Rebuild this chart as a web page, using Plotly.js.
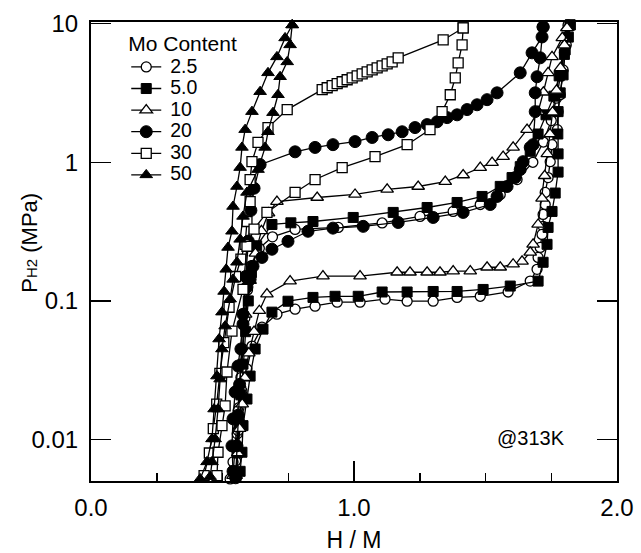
<!DOCTYPE html>
<html>
<head>
<meta charset="utf-8">
<script src="https://cdn.plot.ly/plotly-3.0.1.min.js"></script>
<style>html,body{margin:0;padding:0;background:#fff;}#chart{width:641px;height:553px;}</style>
</head>
<body>
<div id="chart"></div>
<script>
// Mo content labels
const moLabels = ['2.5', '5.0', '10', '20', '30', '50'];

// 2.5 – absorption / desorption (H/M, P MPa)
const h25a = [0.545,0.55,0.556,0.563,0.57,0.578,0.585,0.595,0.61,0.64,0.69,0.776,0.94,1.107,1.251,1.377,1.48,1.556,1.62,1.68,1.72,1.75,1.77,1.785,1.80,1.815];
const p25a = [0.0053,0.007,0.011,0.017,0.028,0.045,0.075,0.12,0.18,0.24,0.29,0.328,0.339,0.365,0.407,0.442,0.496,0.586,0.75,1.0,1.4,2.0,2.9,4.2,6.2,9.6];
const h25d = [1.814,1.807,1.795,1.784,1.776,1.773,1.753,1.746,1.738,1.727,1.727,1.719,1.719,1.715,1.708,1.700,1.696,1.670,1.586,1.480,1.392,1.301,1.202,1.118,1.023,0.936,0.852,0.776,0.707,0.650,0.612,0.593,0.574,0.559,0.559,0.540,0.529];
const p25d = [9.79,7.03,4.64,3.07,2.32,1.72,1.34,1.01,0.776,0.606,0.496,0.421,0.345,0.302,0.243,0.206,0.169,0.139,0.116,0.108,0.106,0.0995,0.0995,0.103,0.0979,0.0979,0.0916,0.0872,0.0803,0.0647,0.0472,0.0323,0.0224,0.0161,0.0116,0.0069,0.0052];

// 5.0
const h50a = [0.55,0.556,0.563,0.57,0.578,0.588,0.598,0.61,0.63,0.688,0.76,0.844,0.997,1.149,1.278,1.392,1.487,1.556,1.601,1.632,1.67,1.70,1.73,1.76,1.78,1.80,1.815,1.822];
const p50a = [0.0054,0.008,0.013,0.021,0.035,0.06,0.1,0.16,0.25,0.356,0.366,0.374,0.40,0.435,0.472,0.513,0.567,0.67,0.776,0.93,1.2,1.6,2.2,3.0,4.2,6.0,8.0,9.8];
const h50d = [1.822,1.803,1.795,1.784,1.776,1.775,1.776,1.776,1.765,1.753,1.738,1.734,1.719,1.70,1.594,1.491,1.392,1.301,1.202,1.107,1.016,0.928,0.844,0.749,0.688,0.654,0.624,0.605,0.593,0.578,0.574,0.567];
const p50d = [9.79,6.47,4.27,3.17,2.32,1.6,1.15,0.85,0.6,0.442,0.339,0.256,0.19,0.139,0.128,0.121,0.117,0.117,0.116,0.116,0.108,0.108,0.106,0.0995,0.083,0.0626,0.045,0.0287,0.0196,0.0126,0.0081,0.0059];

// 10
const h10a = [0.54,0.548,0.556,0.565,0.575,0.588,0.605,0.625,0.648,0.675,0.707,0.86,1.004,1.126,1.244,1.347,1.415,1.48,1.525,1.567,1.605,1.658,1.70,1.72,1.738,1.753,1.792,1.81];
const p10a = [0.0055,0.009,0.015,0.025,0.045,0.08,0.14,0.22,0.32,0.43,0.521,0.557,0.586,0.637,0.669,0.726,0.81,0.916,0.995,1.10,1.28,1.72,2.32,3.2,4.42,5.76,7.89,9.31];
const h10d = [1.81,1.80,1.785,1.77,1.755,1.745,1.735,1.725,1.715,1.70,1.681,1.67,1.639,1.605,1.556,1.506,1.442,1.377,1.327,1.278,1.213,1.164,1.023,0.882,0.757,0.669,0.64,0.62,0.60,0.585,0.575,0.565,0.558,0.552];
const p10d = [9.31,7.0,4.8,3.3,2.3,1.6,1.15,0.8,0.55,0.356,0.256,0.224,0.193,0.184,0.175,0.175,0.164,0.164,0.161,0.161,0.161,0.161,0.151,0.151,0.139,0.112,0.085,0.06,0.042,0.028,0.018,0.012,0.008,0.0055];

// 20
const h20a = [0.55,0.555,0.56,0.565,0.57,0.578,0.588,0.598,0.608,0.62,0.643,0.776,0.852,0.920,1.004,1.069,1.130,1.183,1.232,1.278,1.316,1.354,1.392,1.430,1.468,1.506,1.544,1.632,1.677,1.715,1.719];
const p20a = [0.0053,0.009,0.015,0.025,0.045,0.08,0.15,0.27,0.45,0.65,0.962,1.19,1.28,1.34,1.41,1.51,1.58,1.66,1.78,1.87,1.96,2.10,2.20,2.40,2.60,2.83,3.17,4.42,6.16,8.02,9.47];
const h20d = [1.719,1.708,1.696,1.689,1.689,1.681,1.67,1.643,1.632,1.613,1.582,1.544,1.518,1.415,1.301,1.168,1.035,0.92,0.825,0.749,0.688,0.650,0.616,0.605,0.593,0.578,0.559,0.548,0.540,0.536,0.540];
const p20d = [9.47,5.67,4.14,3.17,2.32,1.34,1.28,1.01,0.886,0.776,0.669,0.567,0.496,0.435,0.40,0.368,0.345,0.335,0.318,0.269,0.236,0.206,0.178,0.143,0.126,0.0681,0.0339,0.022,0.0141,0.009,0.0059];

// 30
const h30a = [0.43,0.45,0.465,0.478,0.49,0.505,0.525,0.55,0.57,0.586,0.593,0.605,0.605,0.612,0.635,0.673,0.746,0.879,0.898,0.917,0.936,0.955,0.974,0.993,1.012,1.031,1.050,1.069,1.088,1.107,1.126,1.145,1.168,1.339,1.415];
const p30a = [0.0055,0.008,0.012,0.018,0.03,0.05,0.09,0.15,0.2,0.256,0.374,0.52,0.75,1.01,1.39,1.78,2.40,3.34,3.45,3.57,3.69,3.81,3.94,4.07,4.20,4.35,4.49,4.64,4.80,4.96,5.13,5.30,5.67,7.63,9.31];
const h30d = [1.415,1.411,1.396,1.385,1.366,1.335,1.289,1.202,1.080,0.955,0.852,0.776,0.669,0.62,0.593,0.578,0.536,0.517,0.51,0.498,0.483,0.479];
const p30d = [9.31,7.03,5.21,4.07,3.07,2.32,1.72,1.34,1.10,0.916,0.751,0.606,0.435,0.33,0.248,0.121,0.0606,0.0307,0.0175,0.0126,0.0081,0.0055];

// 50
const h50xa = [0.415,0.441,0.460,0.468,0.479,0.487,0.498,0.506,0.514,0.521,0.536,0.540,0.555,0.567,0.574,0.586,0.612,0.643,0.673,0.707,0.738,0.765];
const p50xa = [0.0052,0.0069,0.0101,0.0166,0.0287,0.0531,0.083,0.117,0.169,0.243,0.318,0.480,0.669,0.916,1.28,1.72,2.32,3.23,4.42,5.76,7.89,9.79];
const h50xd = [0.765,0.757,0.746,0.719,0.711,0.692,0.673,0.662,0.635,0.593,0.578,0.567,0.555,0.540,0.529,0.510,0.498,0.491,0.483,0.472,0.460,0.453];
const p50xd = [9.79,7.03,5.30,4.14,3.07,2.28,1.66,1.28,0.886,0.606,0.407,0.278,0.19,0.143,0.103,0.0658,0.045,0.0273,0.0166,0.0101,0.0069,0.0054];

const FONT = 'Liberation Sans, Arial, Helvetica, sans-serif';
const markers = [
  {symbol: 'circle', size: 10, color: '#fff', line: {color: '#000', width: 1.3}},
  {symbol: 'square', size: 10, color: '#000', line: {color: '#000', width: 1}},
  {symbol: 'triangle-up', size: 11, color: '#fff', line: {color: '#000', width: 1.3}},
  {symbol: 'circle', size: 12, color: '#000', line: {color: '#000', width: 1}},
  {symbol: 'square', size: 10, color: '#fff', line: {color: '#000', width: 1.3}},
  {symbol: 'triangle-up', size: 11, color: '#000', line: {color: '#000', width: 1}}
];
const branches = [
  [h25a, p25a, h25d, p25d],
  [h50a, p50a, h50d, p50d],
  [h10a, p10a, h10d, p10d],
  [h20a, p20a, h20d, p20d],
  [h30a, p30a, h30d, p30d],
  [h50xa, p50xa, h50xd, p50xd]
];

const traces = [];
branches.forEach((b, i) => {
  const common = {
    type: 'scatter', mode: 'lines+markers', legendgroup: 'g' + i,
    line: {color: '#000', width: 1.3}, marker: markers[i], cliponaxis: false
  };
  const label = '\u00A0<span style="font-size:19.5px">' + moLabels[i] + '</span>';
  traces.push(Object.assign({}, common, {x: b[0], y: b[1], name: label, showlegend: true}));
  traces.push(Object.assign({}, common, {x: b[2], y: b[3], name: label, showlegend: false}));
});

const layout = {
  width: 641, height: 553,
  margin: {l: 91, r: 24, t: 22, b: 72},
  paper_bgcolor: '#fff', plot_bgcolor: '#fff',
  font: {family: FONT, color: '#000'},
  showlegend: true,
  legend: {
    x: 0.067, y: 0.996, xanchor: 'left', yanchor: 'top',
    bgcolor: 'rgba(0,0,0,0)', font: {family: FONT, size: 14.3, color: '#000'},
    title: {text: 'Mo Content', font: {family: FONT, size: 21, color: '#000'}},
    tracegroupgap: 0
  },
  xaxis: {
    range: [0, 2], showgrid: false, zeroline: false,
    showline: true, linecolor: '#000', linewidth: 2, mirror: true,
    ticks: 'inside', ticklen: 20, tickwidth: 1.5, tickcolor: '#000',
    tickvals: [0, 1, 2], ticktext: ['0.0', '1.0', '2.0'],
    minor: {tick0: 0, dtick: 0.25, ticks: 'inside', ticklen: 8, tickwidth: 1.5, tickcolor: '#000', showgrid: false},
    tickfont: {family: FONT, size: 24, color: '#000'},
    ticklabelstandoff: 4,
    title: {text: 'H / M', font: {family: FONT, size: 23, color: '#000'}, standoff: 13}
  },
  xaxis2: {
    overlaying: 'x', anchor: 'y', side: 'bottom', range: [0, 2],
    showgrid: false, zeroline: false, showline: false, showticklabels: false,
    ticks: 'inside', ticklen: 13, tickwidth: 1.5, tickcolor: '#000',
    tickvals: [0.5, 1.5]
  },
  yaxis: {
    type: 'log', range: [-2.299, 1.012], showgrid: false, zeroline: false,
    showline: true, linecolor: '#000', linewidth: 2, mirror: 'ticks',
    ticks: 'inside', ticklen: 20, tickwidth: 1.5, tickcolor: '#000',
    tickvals: [0.01, 0.1, 1, 10], ticktext: ['0.01', '0.1', '1', '10'],
    tickfont: {family: FONT, size: 24, color: '#000'},
    ticklabelstandoff: 6
  },
  annotations: [
    {
      x: 1.674, y: -1.988, xref: 'x', yref: 'y', text: '@313K', showarrow: false,
      font: {family: FONT, size: 20, color: '#000'}
    },
    {
      x: -0.116, y: 0.519, xref: 'paper', yref: 'paper', textangle: -90,
      xanchor: 'center', yanchor: 'middle', showarrow: false,
      text: 'P<span style="font-size:15px">H2</span> (MPa)',
      font: {family: FONT, size: 22, color: '#000'}
    }
  ]
};

Plotly.newPlot('chart', traces, layout, {displayModeBar: false, staticPlot: true});
</script>
</body>
</html>
